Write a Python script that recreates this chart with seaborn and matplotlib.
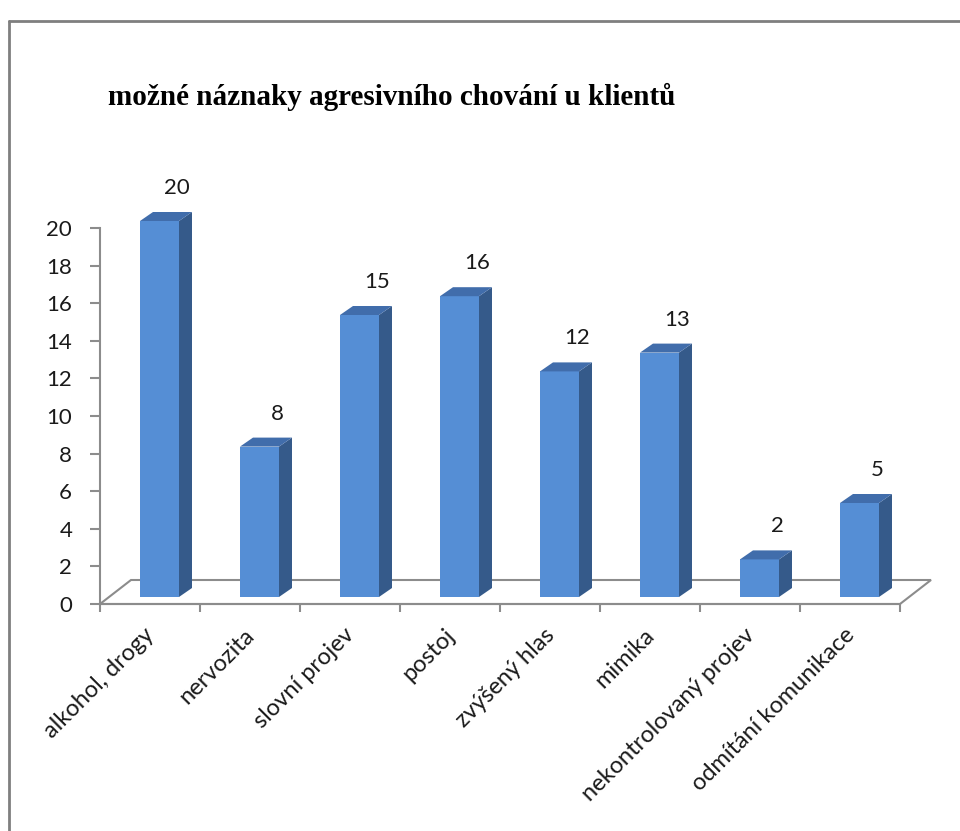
import numpy as np
import matplotlib
matplotlib.use("Agg")
import matplotlib.pyplot as plt
import seaborn as sns
from matplotlib.patches import Polygon
from matplotlib.lines import Line2D
from matplotlib.transforms import ScaledTranslation

categories = ["alkohol, drogy", "nervozita", "slovní projev", "postoj",
              "zvýšený hlas", "mimika", "nekontrolovaný projev", "odmítání komunikace"]
values = [20, 8, 15, 16, 12, 13, 2, 5]
yticks = [0, 2, 4, 6, 8, 10, 12, 14, 16, 18, 20]
title = "možné náznaky agresivního chování u klientů"

FRONT = "#558ED5"
SIDE = "#355A8A"
TOP = "#416DAB"
GRAY = "#8C8C8C"

sns.set_theme(style="white")
plt.rcParams["font.family"] = ["Lato", "DejaVu Sans"]

W, H = 960, 831
fig = plt.figure(figsize=(W / 100, H / 100), dpi=100)
ax = fig.add_axes([100 / W, (H - 604) / H, 800 / W, 376 / H])

px_x = 0.01          # category units per pixel
px_y = 20 / 376      # value units per pixel

sns.barplot(x=categories, y=values, color=FRONT, saturation=1, width=0.39,
            ax=ax, zorder=3, edgecolor="none")
ax.set_xlim(-0.5, 7.5)
ax.set_ylim(0, 20)

bx = 9.5 * px_x
by = 7 * px_y
dx = 13 * px_x
dy = 9 * px_y

bars = list(ax.patches)[:len(values)]

# floor
fx = 31 * px_x
fy = 24 * px_y
floor = Polygon([(-0.5, 0), (7.5, 0), (7.5 + fx, fy), (-0.5 + fx, fy)],
                closed=True, facecolor="white", edgecolor=GRAY, lw=1.5,
                clip_on=False, zorder=1)
ax.add_patch(floor)

for p, v in zip(bars, values):
    p.set_clip_on(False)
    x0 = p.get_x() + bx
    w = p.get_width()
    p.set_x(x0)
    p.set_y(by)
    h = p.get_height()
    top = by + h
    side = Polygon([(x0 + w, by), (x0 + w + dx, by + dy), (x0 + w + dx, top + dy), (x0 + w, top)],
                   closed=True, facecolor=SIDE, edgecolor="none", zorder=3, clip_on=False)
    tp = Polygon([(x0, top), (x0 + dx, top + dy), (x0 + w + dx, top + dy), (x0 + w, top)],
                 closed=True, facecolor=TOP, edgecolor="none", zorder=3, clip_on=False)
    ax.add_patch(side)
    ax.add_patch(tp)

for i, v in enumerate(values):
    ax.text(i + 0.27, v + by + 1.75, str(v), ha="center", va="center",
            fontsize=16, color="#1a1a1a", clip_on=False)

for s in ["top", "right"]:
    ax.spines[s].set_visible(False)
for s in ["left", "bottom"]:
    ax.spines[s].set_color(GRAY)
    ax.spines[s].set_linewidth(1.5)
    ax.spines[s].set_zorder(2)

ax.set_yticks(yticks)
ax.set_yticklabels([str(t) for t in yticks], fontsize=16, color="#1a1a1a")
ax.tick_params(axis="y", direction="out", length=7, width=1.5, color=GRAY, pad=13, left=True)

ax.set_xticks(range(len(categories)))
ax.set_xticklabels(categories, fontsize=17, color="#1a1a1a", rotation=45,
                   ha="right", va="center", rotation_mode="anchor")
ax.tick_params(axis="x", which="major", length=0, pad=20)
ax.set_xticks(np.arange(-0.5, len(categories), 1), minor=True)
ax.tick_params(axis="x", which="minor", direction="out", length=6, width=1.5,
               color=GRAY, bottom=True)
for lab in ax.get_xticklabels():
    lab.set_transform(lab.get_transform() + ScaledTranslation(0.01, 0, fig.dpi_scale_trans))
ax.set_xlabel("")
ax.set_ylabel("")
ax.grid(False)

fig.text(108 / W, 1 - 97 / H, title, ha="left", va="center",
         fontfamily="Liberation Serif", fontweight="bold", fontsize=21, color="black")

# chart border
fig.add_artist(Line2D([9 / W, 9 / W], [0, 1 - 21 / H], color="#7f7f7f", lw=2))
fig.add_artist(Line2D([9 / W, 1], [1 - 21 / H, 1 - 21 / H], color="#7f7f7f", lw=2))

fig.savefig("out.png", dpi=100, facecolor="white")
